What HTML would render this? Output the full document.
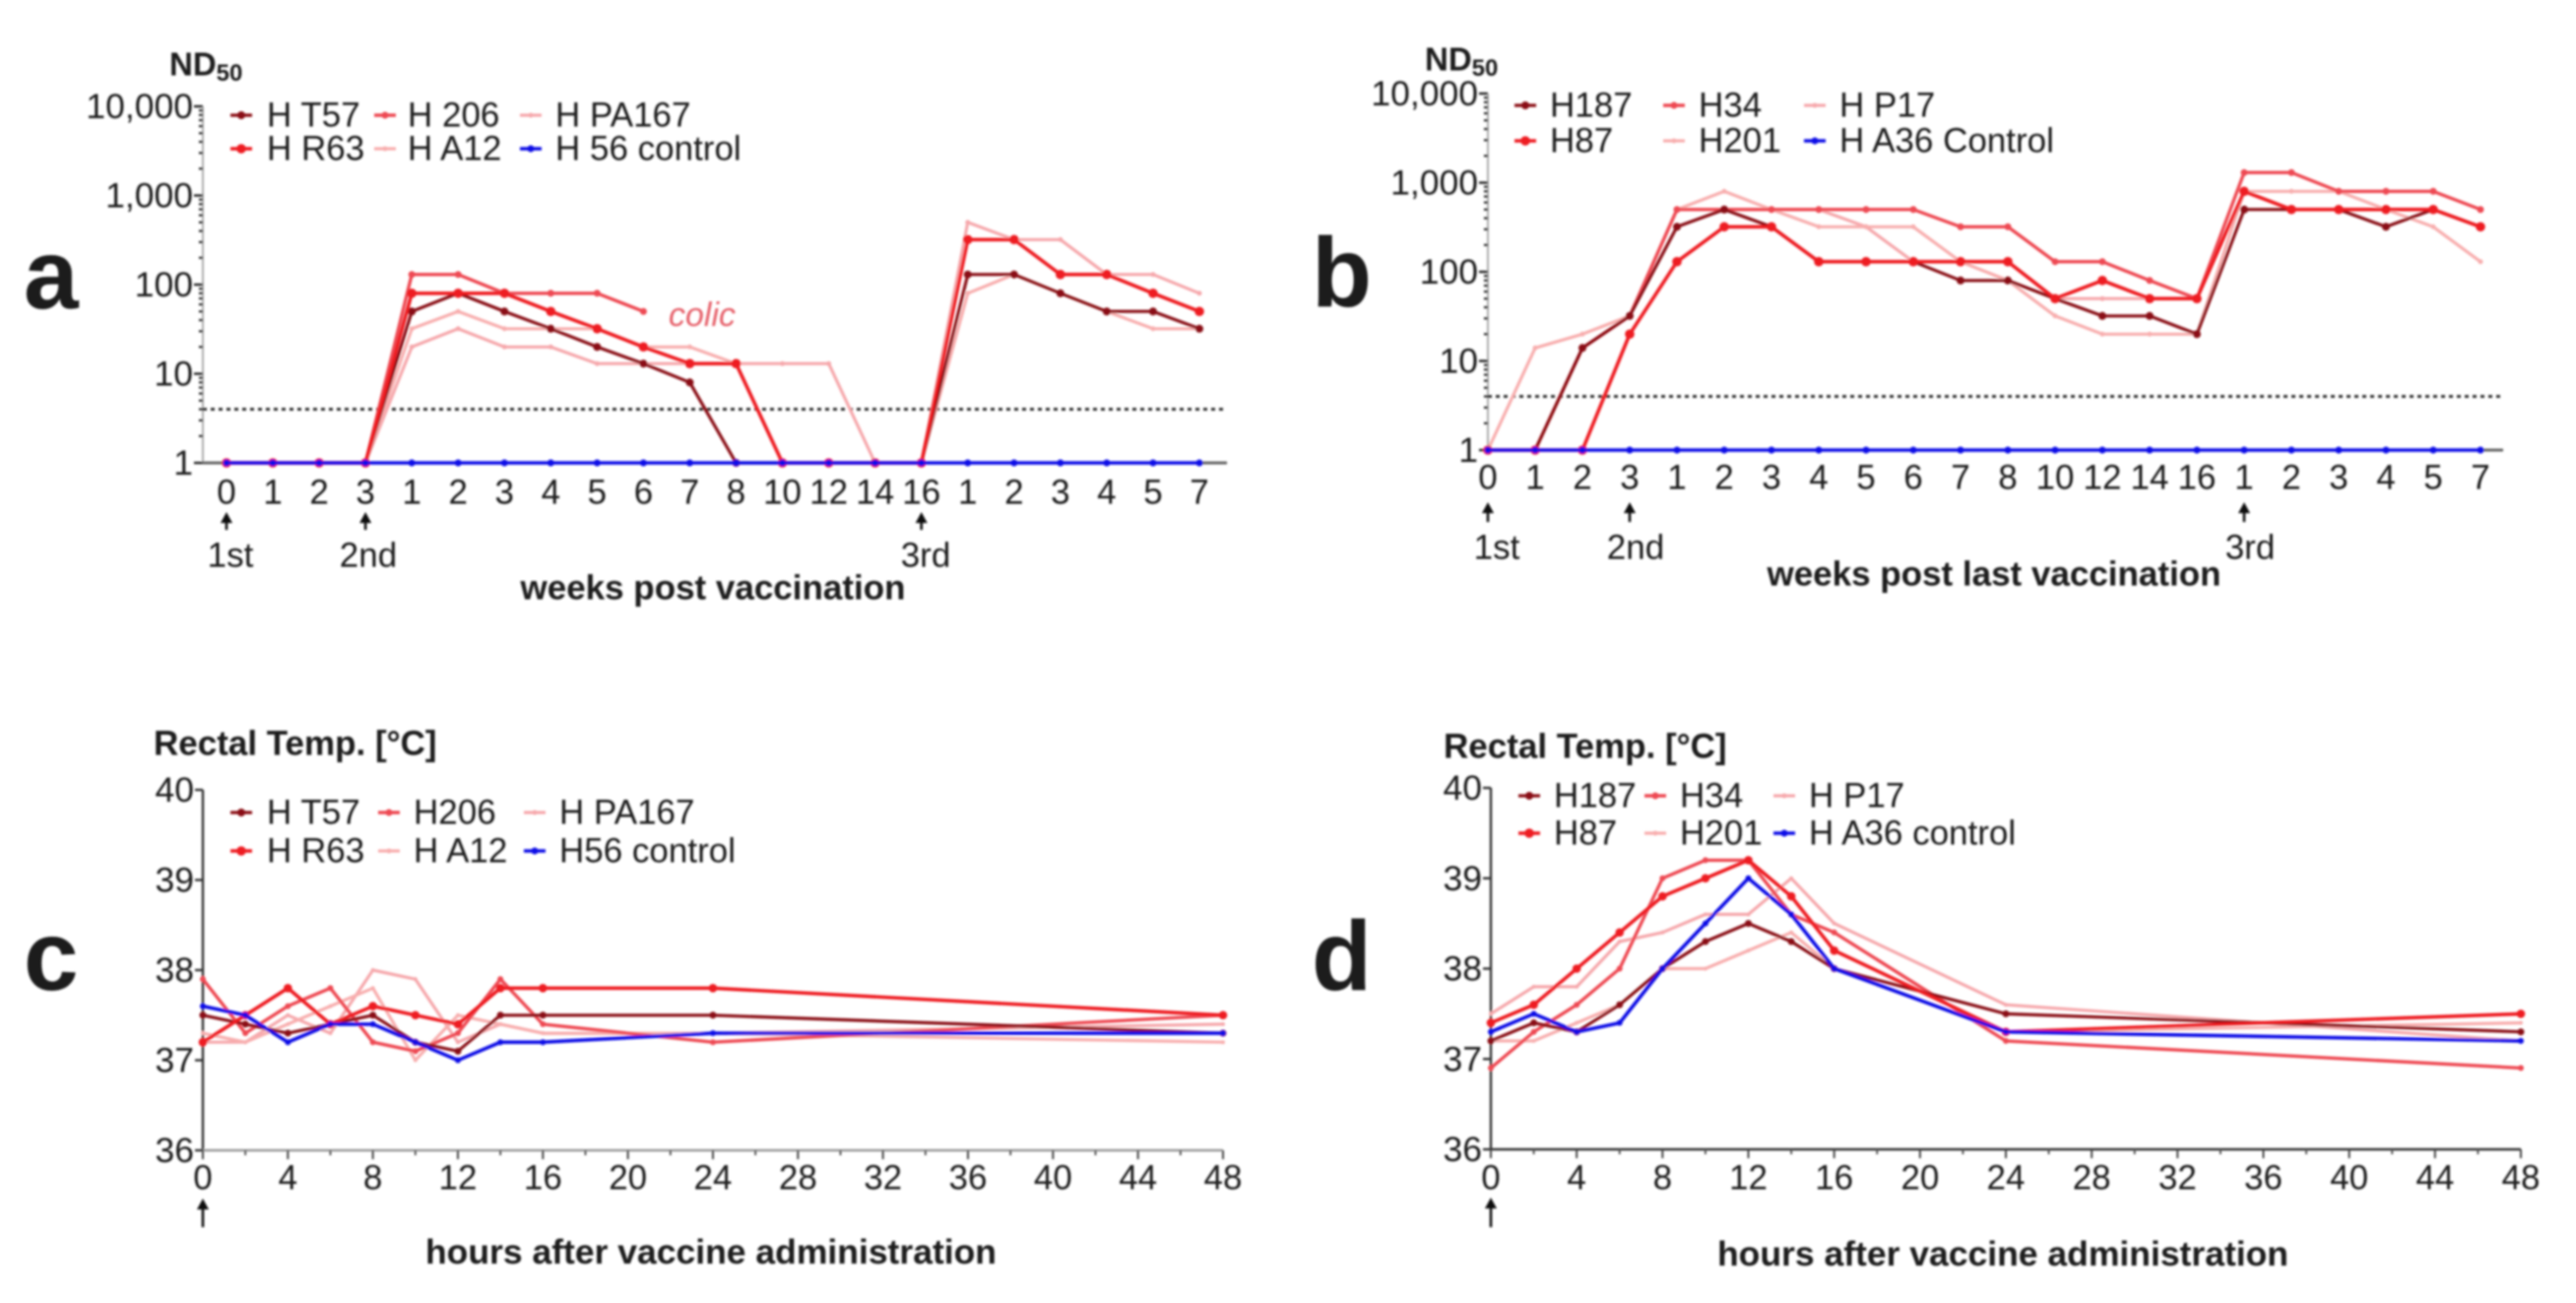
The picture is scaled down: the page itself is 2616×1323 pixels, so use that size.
<!DOCTYPE html>
<html>
<head>
<meta charset="utf-8">
<title>ND50 and rectal temperature charts</title>
<style>
html,body{margin:0;padding:0;background:#fff;width:2616px;height:1323px;overflow:hidden}
svg{display:block}
text{font-family:"Liberation Sans",sans-serif;fill:#1a1a1a}
</style>
</head>
<body>
<svg id="figure" xmlns="http://www.w3.org/2000/svg" width="2616" height="1323" viewBox="0 0 2616 1323">
<defs><filter id="soft" x="0" y="0" width="100%" height="100%"><feGaussianBlur stdDeviation="1.1"/></filter></defs>
<rect width="2616" height="1323" fill="#fff"/>
<g id="root" filter="url(#soft)"></g>
</svg>
<script>
// ---- Panel a data
const weekLabelsA = ["0","1","2","3","1","2","3","4","5","6","7","8","10","12","14","16","1","2","3","4","5","7"];
const logTickLabels = ["1","10","100","1,000","10,000"];
const logTickValues = [1,10,100,1000,10000];
const aNames = ["H T57","H R63","H 206","H A12","H PA167","H 56 control"];
const aT57 = [1,1,1,1,50,80,50,32,20,13,8,1,1,1,1,1,130,130,80,50,50,32];
const aR63 = [1,1,1,1,80,80,80,50,32,20,13,13,1,1,1,1,320,320,130,130,80,50];
const a206 = [1,1,1,1,130,130,80,80,80,50];
const aA12 = [1,1,1,1,32,50,32,32,32,20,20,13,1,1,1,1,80,130,80,50,32,32];
const aPA167 = [1,1,1,1,20,32,20,20,13,13,13,13,13,13,1,1,500,320,320,130,130,80];
const aControl = [1,1,1,1,1,1,1,1,1,1,1,1,1,1,1,1,1,1,1,1,1,1];
// ---- Panel b data
const weekLabelsB = ["0","1","2","3","1","2","3","4","5","6","7","8","10","12","14","16","1","2","3","4","5","7"];
const bNames = ["H187","H87","H34","H201","H P17","H A36 Control"];
const b187 = [1,1,14,32,320,500,320,130,130,130,80,80,50,32,32,20,500,500,500,320,500,320];
const b87 = [1,1,1,20,130,320,320,130,130,130,130,130,50,80,50,50,800,500,500,500,500,320];
const b34 = [1,1,14,32,500,500,500,500,500,500,320,320,130,130,80,50,1300,1300,800,800,800,500];
const b201 = [1,14,20,32,500,800,500,320,320,320,130,80,32,20,20,20,800,800,800,500,320,130];
const bP17 = [1,1,14,32,500,500,500,500,320,130,130,80,50,50,50,50,800,500,500,500,500,320];
const bControl = [1,1,1,1,1,1,1,1,1,1,1,1,1,1,1,1,1,1,1,1,1,1];
// ---- Panels c, d data
const hours = [0,2,4,6,8,10,12,14,16,24,48];
const hourTicks = [0,4,8,12,16,20,24,28,32,36,40,44,48];
const hourMinorTicks = [2,6,10,14,18,22,26,30,34,38,42,46];
const tempTicks = [36,37,38,39,40];
const cNames = ["H T57","H R63","H206","H A12","H PA167","H56 control"];
const cT57 = [37.5,37.4,37.3,37.4,37.5,37.2,37.1,37.5,37.5,37.5,37.3];
const cR63 = [37.2,37.5,37.8,37.4,37.6,37.5,37.4,37.8,37.8,37.8,37.5];
const c206 = [37.9,37.3,37.6,37.8,37.2,37.1,37.3,37.9,37.4,37.2,37.5];
const cA12 = [37.3,37.2,37.4,37.6,37.8,37.0,37.5,37.4,37.3,37.3,37.2];
const cPA167 = [37.2,37.2,37.5,37.3,38.0,37.9,37.2,37.4,37.3,37.3,37.4];
const cControl = [37.6,37.5,37.2,37.4,37.4,37.2,37.0,37.2,37.2,37.3,37.3];
const dNames = ["H187","H87","H34","H201","H P17","H A36 control"];
const d187 = [37.2,37.4,37.3,37.6,38.0,38.3,38.5,38.3,38.0,37.5,37.3];
const d87 = [37.4,37.6,38.0,38.4,38.8,39.0,39.2,38.8,38.2,37.3,37.5];
const d34 = [36.9,37.3,37.6,38.0,39.0,39.2,39.2,38.6,38.4,37.2,36.9];
const d201 = [37.2,37.2,37.4,37.6,38.0,38.0,38.2,38.4,38.0,37.3,37.4];
const dP17 = [37.5,37.8,37.8,38.3,38.4,38.6,38.6,39.0,38.5,37.6,37.2];
const dControl = [37.3,37.5,37.3,37.4,38.0,38.5,39.0,38.6,38.0,37.3,37.2];
const seriesColors = ["#8a1012","#ee1a22","#ee4a52","#f8aeae","#f6a8ac","#1010e6"];
const seriesWidths = [3.2,3.6,3.4,3.2,3.2,3.6];
const markerRadii = [4,4.8,3.5,2.5,2.5,3.5];
const drawOrder = [4,3,2,0,1,5];

const root = document.getElementById('root');
const NS = 'http://www.w3.org/2000/svg';

function mk(tag, attrs, parent, txt) {
  const e = document.createElementNS(NS, tag);
  for (const k in attrs) e.setAttribute(k, attrs[k]);
  if (txt !== undefined) e.textContent = txt;
  parent.appendChild(e);
  return e;
}
function label(parent, name, x, y, size, str, anchor, weight, extra) {
  const e = mk('text', Object.assign({x: x, y: y, 'font-size': size, 'text-anchor': anchor || 'start', 'font-weight': weight || 'normal', 'dominant-baseline': 'central'}, extra || {}), parent, str);
  
  
  return e;
}
function arrow(parent, x, y1, y2) {
  const g = mk('g', {}, parent);
  
  
  mk('line', {x1: x, y1: y1 + 8, x2: x, y2: y2, stroke: '#111', 'stroke-width': 2.6}, g);
  mk('path', {d: 'M' + (x - 6) + ' ' + (y1 + 11) + 'L' + x + ' ' + y1 + 'L' + (x + 6) + ' ' + (y1 + 11) + 'Z', fill: '#111'}, g);
}
function drawSeries(parent, name, values, color, width, radius, xf, yf) {
  const g = mk('g', {}, parent);
  
  
  const pts = values.map(function (v, i) { return xf(i).toFixed(1) + ',' + yf(v).toFixed(1); }).join(' ');
  mk('polyline', {points: pts, fill: 'none', stroke: color, 'stroke-width': width, 'stroke-linejoin': 'round'}, g);
  values.forEach(function (v, i) {
    mk('circle', {cx: xf(i), cy: yf(v), r: radius, fill: color}, g);
  });
}
function legend(parent, names, rows, markX, textX) {
  names.forEach(function (n, i) {
    const c = Math.floor(i / 2), r = i % 2;
    const g = mk('g', {}, parent);
    
    
    mk('line', {x1: markX[c] - 11, x2: markX[c] + 11, y1: rows[r], y2: rows[r], stroke: seriesColors[i], 'stroke-width': seriesWidths[i]}, g);
    mk('circle', {cx: markX[c], cy: rows[r], r: markerRadii[i], fill: seriesColors[i]}, g);
    label(g, 'legend-label', textX[c], rows[r], 35, n);
  });
}
function logPanel(o) {
  const g = mk('g', {}, root);
  
  
  const xf = function (i) { return o.x0 + (o.xN - o.x0) * i / (o.cats.length - 1); };
  const yf = function (v) { return o.y1 - Math.log10(v) * (o.y1 - o.y1e4) / 4; };
  const ya = mk('g', {}, g);
  
  
  mk('line', {x1: o.axX, x2: o.axX, y1: yf(10000), y2: yf(1), stroke: '#aaa', 'stroke-width': 2}, ya);
  logTickValues.forEach(function (v, i) {
    mk('line', {x1: o.axX - 9, x2: o.axX, y1: yf(v), y2: yf(v), stroke: '#222', 'stroke-width': 2.4}, ya);
    label(ya, 'y-tick-label', o.axX - 10, yf(v), 35.5, logTickLabels[i], 'end');
    if (i < 4) for (let m = 2; m < 10; m++) {
      mk('line', {x1: o.axX - 4, x2: o.axX, y1: yf(v * m), y2: yf(v * m), stroke: '#333', 'stroke-width': 2.4}, ya);
    }
  });
  const xa = mk('g', {}, g);
  
  
  mk('line', {x1: o.axX, x2: o.axEnd, y1: yf(1), y2: yf(1), stroke: '#666', 'stroke-width': 3}, xa);
  o.cats.forEach(function (c, i) {
    label(xa, 'x-tick-label', xf(i), o.tickY, 35, c, 'middle');
  });
  const th = mk('line', {x1: o.axX, x2: o.axEnd, y1: yf(4), y2: yf(4), stroke: '#333', 'stroke-width': 3, 'stroke-dasharray': '4 4'}, g);
  
  
  drawOrder.forEach(function (i) {
    drawSeries(g, o.names[i], o.series[i], seriesColors[i], seriesWidths[i], markerRadii[i], xf, yf);
  });
  legend(g, o.names, o.legRows, o.legMark, o.legText);
  o.arrows.forEach(function (a) {
    arrow(g, xf(a.i), o.arrowY[0], o.arrowY[1]);
    label(g, 'vaccination-label', a.x, o.doseY, 35, a.t, 'middle');
  });
  const yt = label(g, 'y-axis-title', o.ndX, o.ndY, 33, 'ND', 'start', 'bold');
  const sub = mk('tspan', {'font-size': 24, dy: 9}, yt, '50');
  
  
  label(g, 'x-axis-title', o.xlX, o.xlY, 35, o.xl, 'middle', 'bold');
  const L = mk('text', {x: o.letX, y: o.letY, 'font-size': 100, 'font-weight': 'bold', fill: '#000'}, g, o.letter);
  
  
  return {g: g, xf: xf, yf: yf};
}
function tempPanel(o) {
  const g = mk('g', {}, root);
  
  
  const xh = function (h) { return o.x0 + (o.xN - o.x0) * h / 48; };
  const yf = function (v) { return o.y36 + (v - 36) * (o.y40 - o.y36) / 4; };
  const ya = mk('g', {}, g);
  
  
  mk('line', {x1: o.x0, x2: o.x0, y1: yf(40), y2: yf(36), stroke: '#333', 'stroke-width': 2.4}, ya);
  tempTicks.forEach(function (t) {
    mk('line', {x1: o.x0 - 8, x2: o.x0, y1: yf(t), y2: yf(t), stroke: '#333', 'stroke-width': 2.4}, ya);
    label(ya, 'y-tick-label', o.x0 - 9, yf(t), 35.5, String(t), 'end');
  });
  const xa = mk('g', {}, g);
  
  
  mk('line', {x1: o.x0, x2: o.xN, y1: yf(36), y2: yf(36), stroke: o.axisColor, 'stroke-width': 2.4}, xa);
  hourTicks.forEach(function (h) {
    mk('line', {x1: xh(h), x2: xh(h), y1: yf(36), y2: yf(36) + 9, stroke: '#444', 'stroke-width': 2}, xa);
    label(xa, 'x-tick-label', xh(h), o.tickY, 35, String(h), 'middle');
  });
  hourMinorTicks.forEach(function (h) {
    mk('line', {x1: xh(h), x2: xh(h), y1: yf(36), y2: yf(36) + 5, stroke: '#555', 'stroke-width': 2}, xa);
  });
  drawOrder.forEach(function (i) {
    drawSeries(g, o.names[i], o.series[i], seriesColors[i], seriesWidths[i], markerRadii[i] - 0.5, function (k) { return xh(hours[k]); }, yf);
  });
  legend(g, o.names, o.legRows, o.legMark, o.legText);
  arrow(g, o.x0, o.arrowY[0], o.arrowY[1]);
  label(g, 'y-axis-title', o.titleX, o.titleY, 35, 'Rectal Temp. [°C]', 'start', 'bold');
  label(g, 'x-axis-title', o.xlX, o.xlY, 35.5, 'hours after vaccine administration', 'middle', 'bold');
  const L = mk('text', {x: o.letX, y: o.letY, 'font-size': 100, 'font-weight': 'bold', fill: '#000'}, g, o.letter);
  
  
}

const pa = logPanel({id: 'panel-a', letter: 'a', letX: 24, letY: 313, cats: weekLabelsA, names: aNames,
  series: [aT57, aR63, a206, aA12, aPA167, aControl],
  x0: 230, xN: 1218, y1: 470, y1e4: 108, axX: 206, axEnd: 1246, tickY: 500,
  legRows: [117, 151], legMark: [245, 391, 539], legText: [271, 414, 564],
  arrows: [{i: 0, x: 234, t: '1st'}, {i: 3, x: 374, t: '2nd'}, {i: 15, x: 940, t: '3rd'}],
  arrowY: [520, 538], doseY: 564, ndX: 172, ndY: 65, xl: 'weeks post vaccination', xlX: 724, xlY: 597});
const colic = label(pa.g, 'colic-annotation', 679, 320, 34, 'colic', 'start', 'normal', {'font-style': 'italic'});
colic.style.fill = '#e6606a';

logPanel({id: 'panel-b', letter: 'b', letX: 1332, letY: 311, cats: weekLabelsB, names: bNames,
  series: [b187, b87, b34, b201, bP17, bControl],
  x0: 1511, xN: 2519, y1: 457, y1e4: 95, axX: 1511, axEnd: 2542, tickY: 485,
  legRows: [107, 143], legMark: [1549, 1700, 1843], legText: [1574, 1725, 1868],
  arrows: [{i: 0, x: 1520, t: '1st'}, {i: 3, x: 1661, t: '2nd'}, {i: 16, x: 2285, t: '3rd'}],
  arrowY: [510, 530], doseY: 556, ndX: 1447, ndY: 60, xl: 'weeks post last vaccination', xlX: 2025, xlY: 583});

tempPanel({id: 'panel-c', letter: 'c', letX: 24, letY: 1005, names: cNames,
  series: [cT57, cR63, c206, cA12, cPA167, cControl],
  x0: 206, xN: 1242, y36: 1168, y40: 802, tickY: 1196, axisColor: '#999',
  legRows: [825, 864], legMark: [245, 395, 543], legText: [271, 420, 568],
  arrowY: [1217, 1246], titleX: 156, titleY: 755, xlX: 722, xlY: 1271});

tempPanel({id: 'panel-d', letter: 'd', letX: 1332, letY: 1005, names: dNames,
  series: [d187, d87, d34, d201, dP17, dControl],
  x0: 1514, xN: 2560, y36: 1167, y40: 800, tickY: 1196, axisColor: '#333',
  legRows: [808, 846], legMark: [1553, 1681, 1812], legText: [1578, 1706, 1837],
  arrowY: [1216, 1246], titleX: 1466, titleY: 758, xlX: 2034, xlY: 1273});
</script>
</body>
</html>
